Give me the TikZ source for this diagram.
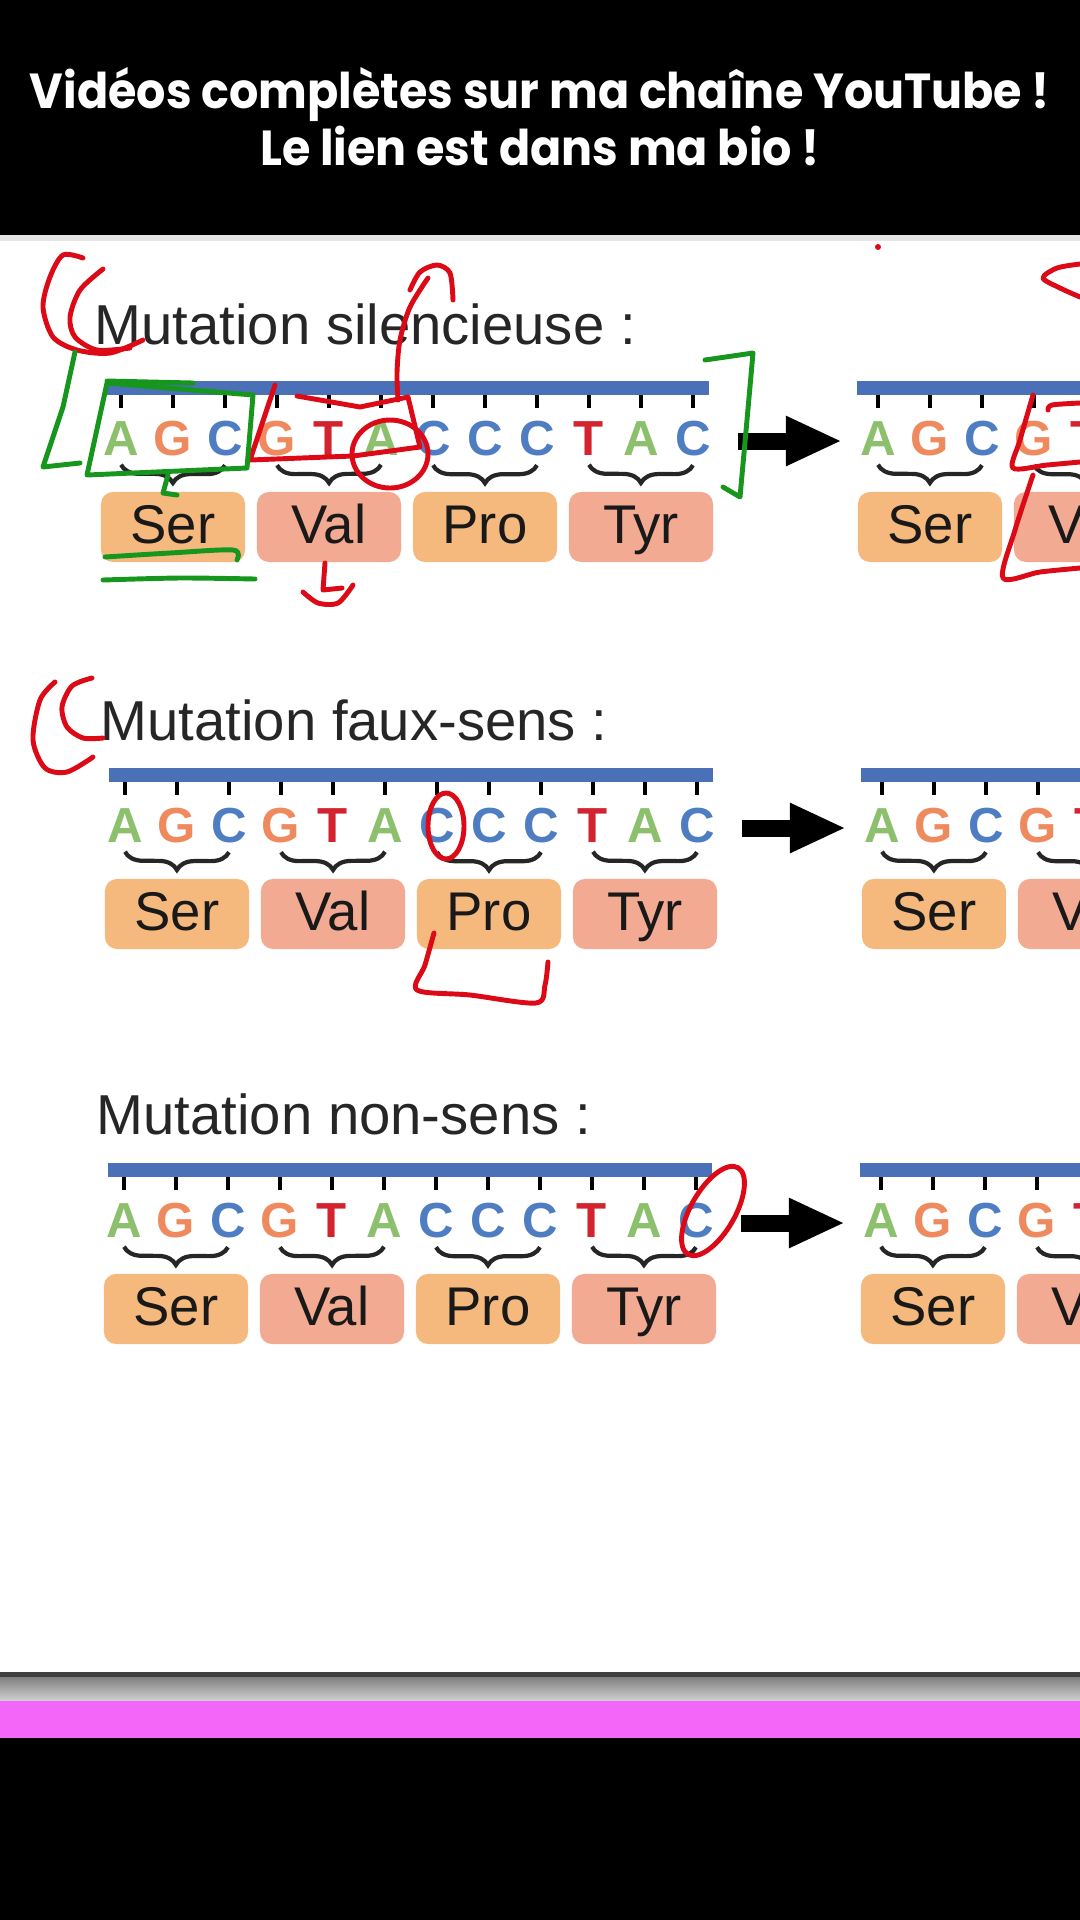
\documentclass[tikz,border=0pt]{standalone}
\usepackage{fontspec}
\setmainfont{Liberation Sans}
\newfontfamily\headfont{Poppins}
\usepackage{tikz}
\usetikzlibrary{calc,arrows.meta,decorations.pathreplacing}

\definecolor{baseA}{HTML}{8CC06C}
\definecolor{baseG}{HTML}{EE8A5E}
\definecolor{baseC}{HTML}{4E7DC2}
\definecolor{baseT}{HTML}{D2232F}
\definecolor{strand}{HTML}{4A70B8}
\definecolor{aaOrange}{HTML}{F5B97E}
\definecolor{aaSalmon}{HTML}{F2AA92}
\definecolor{inkRed}{HTML}{DC0A16}
\definecolor{inkGreen}{HTML}{16961C}
\definecolor{titleGray}{HTML}{262626}
\definecolor{pinkBar}{HTML}{F466F8}

\begin{document}
\begin{tikzpicture}[x=0.01cm,y=-0.01cm,
  base/.style={anchor=base,inner sep=0pt,font=\bfseries\fontsize{14}{15}\selectfont},
  tick/.style={line width=1.3pt},
  codon/.style={decorate,decoration={brace,mirror,amplitude=0.18cm},line width=1.2pt,black!85},
  aabox/.style={rounded corners=0.12cm,minimum width=1.44cm,minimum height=0.70cm,inner sep=0pt,
    text height=11pt,text depth=1.6pt,font=\fontsize{15.5}{16}\selectfont,text=black!90},
  header/.style={anchor=base,text=white,font=\headfont\bfseries\fontsize{14}{16}\selectfont},
  fatarrow/.style={line width=0.17cm,-{Triangle[length=0.56cm,width=0.46cm]}},
  redink/.style={draw=inkRed,line width=1.4pt,line cap=round,line join=round},
  greenink/.style={draw=inkGreen,line width=1.4pt,line cap=round,line join=round}]
  \useasboundingbox (0,0) rectangle (1080,1920);
  \clip (0,0) rectangle (1080,1920);

  %% Header and footer bands
  \fill[black] (0,0) rectangle (1080,235);
  \fill[black!10] (0,235) rectangle (1080,241);
  \node[header] (HD1) at (540,108) {\scalebox{0.935}[1]{Vidéos complètes sur ma chaîne YouTube !}};
  \node[header] (HD2) at (540,165) {\scalebox{0.935}[1]{Le lien est dans ma bio !}};
  \fill[black!75] (0,1672) rectangle (1080,1677);
  \shade[top color=black!50,bottom color=black!18] (0,1677) rectangle (1080,1701);
  \fill[pinkBar] (0,1701) rectangle (1080,1738);
  \fill[black] (0,1738) rectangle (1080,1920);

  %% One row per mutation: strand, bases, codons, amino acids
  \foreach \s/\bx/\by/\tx/\ty/\kind in {1/121/381/94/344/silencieuse,
                                       2/125/768/100/740/faux-sens,
                                       3/124/1163/96/1134/non-sens}
  {
    \node[anchor=base west,inner sep=0pt,text=titleGray,font=\fontsize{16}{18}\selectfont]
      (T\s) at (\tx,\ty) {Mutation \kind\ :};
    \fill[strand] ({\bx-16},\by) rectangle ({\bx+588},{\by+14});
    \foreach \i/\b in {1/A,2/G,3/C,4/G,5/T,6/A,7/C,8/C,9/C,10/T,11/A,12/C}
    {
      \draw[tick] ({\bx+52*(\i-1)},{\by+14}) -- ++(0,13);
      \node[base,text=base\b] (L\s-\i) at ({\bx+52*(\i-1)},{\by+74}) {\b};
    }
    \foreach \k/\aa/\col in {1/Ser/aaOrange,2/Val/aaSalmon,3/Pro/aaOrange,4/Tyr/aaSalmon}
    {
      \pgfmathtruncatemacro\cfirst{3*\k-2}
      \pgfmathtruncatemacro\cmid{3*\k-1}
      \pgfmathtruncatemacro\clast{3*\k}
      \draw[codon] ($(L\s-\cfirst.south)+(0,9)$) -- ($(L\s-\clast.south)+(0,9)$);
      \node[aabox,fill=\col] (AA\s-\k) at ($(L\s-\cmid.base)+(0,72)$) {\aa};
    }

    %% Copy on the right, cut by the frame
    \fill[strand] ({\bx+736},\by) rectangle (1100,{\by+14});
    \foreach \i/\b in {1/A,2/G,3/C,4/G,5/T}
    {
      \draw[tick] ({\bx+757+52*(\i-1)},{\by+14}) -- ++(0,13);
      \node[base,text=base\b] (R\s-\i) at ({\bx+757+52*(\i-1)},{\by+74}) {\b};
    }
    \draw[codon] ($(R\s-1.south)+(0,9)$) -- ($(R\s-3.south)+(0,9)$);
    \draw[codon] ($(R\s-4.south)+(0,9)$) -- ($(R\s-4.south)+(104,9)$);
    \node[aabox,fill=aaOrange] (RA\s-1) at ($(R\s-2.base)+(0,72)$) {Ser};
    \node[aabox,fill=aaSalmon] (RA\s-2) at ($(R\s-5.base)+(0,72)$) {Val};

    \coordinate (AS\s) at ($(L\s-12.base)+(45,-14)$);
    \coordinate (AE\s) at ($(R\s-1.base)+(-36,-14)$);
    \draw[fatarrow] (AS\s) -- (AE\s);
  }

  %% Hand-drawn marks, first row
  \draw[redink] plot[smooth] coordinates {(83,258) (63,255) (50,277) (43,307) (53,337) (77,350) (110,353) (143,340)};
  \draw[redink] plot[smooth] coordinates {(103,269) (80,290) (70,317) (75,337) (97,350) (130,348)};
  \draw[redink] plot[smooth] coordinates {(453,300) (450,273) (437,265) (420,272) (410,290)};
  \draw[redink] plot[smooth] coordinates {(428,278) (410,307) (400,340) (397,373) (398,400)};
  \draw[redink] (275,385) -- (250,460) -- (353,456) -- (420,447) -- (408,397) -- (360,407) -- (297,396);
  \draw[redink] (390,454) ellipse[x radius=38,y radius=34];
  \draw[redink] (325,563) -- (323,590) -- (342,588);
  \draw[redink] plot[smooth] coordinates {(303,592) (318,603) (338,603) (353,585)};
  \fill[inkRed] (878,247) circle[radius=3];
  \draw[redink] plot[smooth] coordinates {(1080,264) (1057,268) (1043,278) (1060,288) (1080,297)};
  \draw[redink] plot[smooth] coordinates {(1033,395) (1020,440) (1013,468) (1047,465) (1080,462)};
  \draw[redink] plot[smooth] coordinates {(1048,410) (1052,405) (1080,403)};
  \draw[redink] plot[smooth] coordinates {(1033,475) (1015,530) (1003,578) (1040,572) (1080,568)};
  \draw[greenink] (75,352) -- (63,407) -- (43,467) -- (80,463);
  \draw[greenink] (107,383) -- (253,395) -- (247,468) -- (87,475) -- cycle;
  \draw[greenink] (107,381) -- (193,383);
  \draw[greenink] (168,475) -- (163,493) -- (177,495);
  \draw[greenink] plot[smooth] coordinates {(105,557) (170,553) (233,550) (237,560)};
  \draw[greenink] plot[smooth] coordinates {(103,580) (180,578) (255,579)};
  \draw[greenink] (705,360) -- (753,353) -- (747,420) -- (740,497) -- (723,487);

  %% Second and third rows
  \draw[redink] plot[smooth] coordinates {(55,682) (40,700) (33,740) (45,768) (67,772) (93,757)};
  \draw[redink] plot[smooth] coordinates {(92,678) (72,686) (62,707) (67,727) (83,738) (103,738)};
  \draw[redink] (446,826) ellipse[x radius=18,y radius=33];
  \draw[redink] plot[smooth] coordinates {(434,933) (425,965) (417,990) (470,995) (536,1003) (545,985) (548,962)};
  \draw[redink,rotate around={-30:(713,1211)}] (713,1211) ellipse[x radius=22,y radius=50];

\end{tikzpicture}
\end{document}
